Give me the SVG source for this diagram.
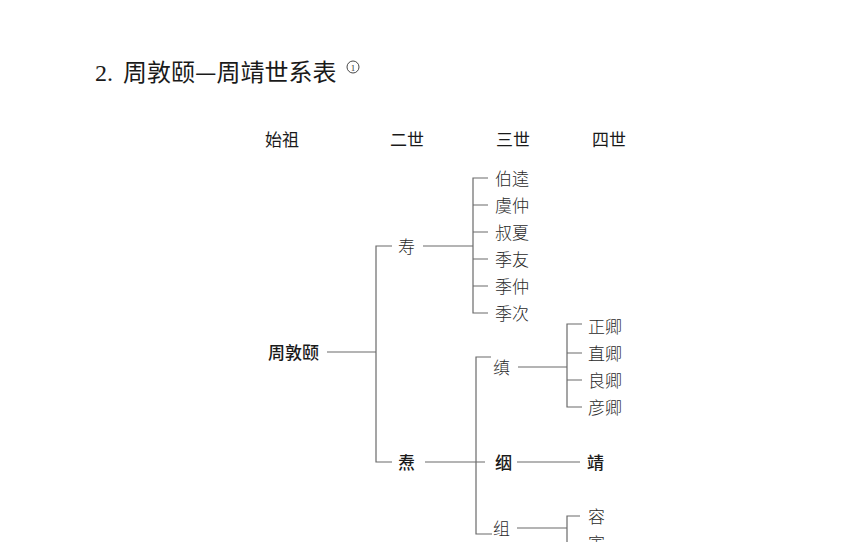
<svg xmlns="http://www.w3.org/2000/svg" width="858" height="542" viewBox="0 0 858 542">
<style>
.t{font-family:"Noto Sans CJK SC","Noto Sans",sans-serif;font-size:17px;fill:#2a2a2a;font-weight:300}
.s{font-family:"Noto Sans CJK SC","Noto Sans",sans-serif;font-size:17px;fill:#1a1a1a;font-weight:500}
.h{font-family:"Noto Sans CJK SC","Noto Sans",sans-serif;font-size:17px;fill:#1a1a1a;font-weight:400}
.title{font-family:"Noto Sans CJK SC","Liberation Serif",sans-serif;font-size:24px;fill:#1a1a1a;font-weight:400}
.c{fill:none;stroke:#6a6a6a;stroke-width:1.2}
</style>
<rect width="858" height="542" fill="#ffffff"/>
<g id="title">
<text class="title" y="81"><tspan x="95" font-family="Liberation Serif, serif">2.</tspan><tspan x="123">周敦颐—周靖世系表</tspan></text>
<circle cx="353" cy="67" r="6" fill="none" stroke="#333" stroke-width="0.9"/>
<text x="353" y="70.5" text-anchor="middle" font-family="Liberation Serif, serif" font-size="9" fill="#333">1</text>
</g>
<g id="headers">
<text class="h" x="265" y="146">始祖</text>
<text class="h" x="390" y="146">二世</text>
<text class="h" x="496" y="146">三世</text>
<text class="h" x="592" y="146">四世</text>
</g>
<g id="connectors">
<path class="c" d="M327 352H376M392 246H376V462H392"/>
<path class="c" d="M423 246H473M488 178H473V313H488M473 205H488M473 232H488M473 259H488M473 286H488"/>
<path class="c" d="M425 462H485M491 357H476V534H492"/>
<path class="c" d="M518 367H567M582 324H567V407H582M567 353H582M567 380H582"/>
<path class="c" d="M517 462H580"/>
<path class="c" d="M517 528H567M580 516H567V542"/>
</g>
<g id="n-zhoudunyi"><text class="s" x="268" y="358.5">周敦颐</text></g>
<g id="n-shou"><text class="t" x="398" y="252.5">寿</text></g>
<g id="n-tao"><text class="s" x="398" y="468.5">焘</text></g>
<g id="n-bokui"><text class="t" x="495" y="184.5">伯逵</text></g>
<g id="n-yuzhong"><text class="t" x="495" y="211.5">虞仲</text></g>
<g id="n-shuxia"><text class="t" x="495" y="238.5">叔夏</text></g>
<g id="n-jiyou"><text class="t" x="495" y="265.5">季友</text></g>
<g id="n-jizhong"><text class="t" x="495" y="292.5">季仲</text></g>
<g id="n-jici"><text class="t" x="495" y="319.5">季次</text></g>
<g id="n-zhen"><text class="t" x="493" y="373.5">缜</text></g>
<g id="n-yin"><text class="s" x="495" y="468.5">𬘡</text></g>
<g id="n-zu"><text class="t" x="493" y="534.5">组</text></g>
<g id="n-zhengqing"><text class="t" x="588" y="332.5">正卿</text></g>
<g id="n-zhiqing"><text class="t" x="588" y="359.5">直卿</text></g>
<g id="n-liangqing"><text class="t" x="588" y="386.5">良卿</text></g>
<g id="n-yanqing"><text class="t" x="588" y="413.5">彦卿</text></g>
<g id="n-jing"><text class="s" x="587" y="468.5">靖</text></g>
<g id="n-rong"><text class="t" x="588" y="522.5">容</text></g>
<g id="n-yin2"><text class="t" x="588" y="549.5">寅</text></g>
</svg>
